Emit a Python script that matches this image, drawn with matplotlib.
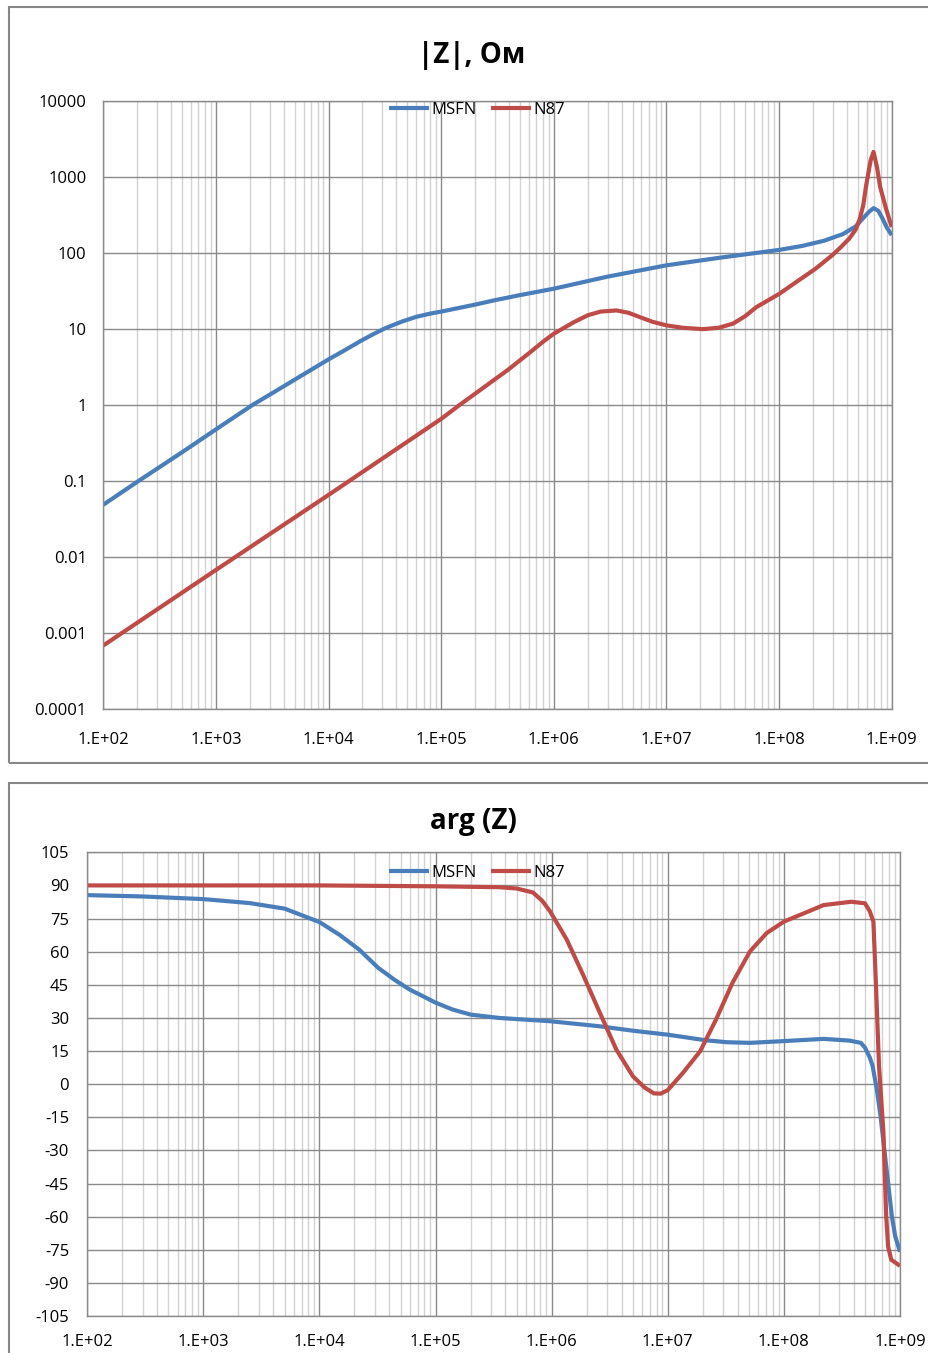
import numpy as np
import matplotlib
matplotlib.use("Agg")
import matplotlib.pyplot as plt
from matplotlib.patches import Rectangle
from matplotlib.ticker import LogLocator, NullFormatter

plt.rcParams['font.family'] = ['Open Sans', 'DejaVu Sans']
plt.rcParams['axes.unicode_minus'] = False

# |Z|, Ohm
f_msfn_mag = [1e2, 2e2, 5e2, 1e3, 2.1e3, 5e3, 1e4, 1.4e4, 1.9e4, 2.5e4, 3.2e4, 4.5e4, 6e4,
              8e4, 1e5, 2e5, 3e5, 5e5, 1e6, 3e6, 1e7, 3e7, 1e8, 1.6e8, 2.5e8, 3.7e8,
              4.8e8, 5.6e8, 6.3e8, 6.9e8, 7.6e8, 8.3e8, 9e8, 1e9]
msfn_mag = [0.049, 0.098, 0.24, 0.48, 1.0, 2.16, 4.0, 5.3, 6.9, 8.6, 10.3, 12.6, 14.5,
            16.0, 17, 21, 24, 28, 34, 49, 69, 87, 110, 124, 145, 178,
            225, 290, 350, 390, 360, 284, 220, 172]

f_n87_mag = [1e2, 1e3, 1e4, 1e5, 1.45e5, 3.9e5, 6e5, 8e5, 1e6, 1.5e6, 2e6, 2.6e6, 3.6e6,
             4.6e6, 5.8e6, 7.5e6, 1e7, 1.4e7, 2.1e7, 2.9e7, 3.9e7, 5e7, 6.3e7, 1e8,
             1.5e8, 2.1e8, 3e8, 3.5e8, 4.2e8, 4.8e8, 5.2e8, 5.6e8, 5.9e8, 6.5e8, 6.9e8,
             7.4e8, 7.9e8, 8.9e8, 1e9]
n87_mag = [6.9e-4, 6.8e-3, 0.066, 0.66, 1.0, 2.9, 4.8, 6.8, 8.7, 12.3, 15.2, 17, 17.6,
           16.4, 14.4, 12.5, 11.2, 10.4, 10.0, 10.4, 11.8, 14.8, 19.5, 29,
           44, 62, 95, 118, 155, 205, 280, 430, 740, 1660, 2140,
           1350, 740, 385, 220]

# arg(Z), degrees
f_msfn_ph = [1e2, 3e2, 1e3, 2.5e3, 5e3, 1e4, 1.5e4, 2.2e4, 3.2e4, 4.5e4, 6e4, 8e4, 1e5,
             1.4e5, 2e5, 3.5e5, 9.7e5, 2.6e6, 5e6, 1e7, 2.1e7, 3.2e7, 5.1e7, 1e8, 2.2e8,
             3.7e8, 4.6e8, 5e8, 5.5e8, 5.8e8, 6.3e8, 6.8e8, 7.6e8, 8.5e8, 9.1e8, 1e9]
msfn_ph = [85.6, 85.0, 83.8, 82.0, 79.5, 73.4, 67.5, 60.9, 52.7, 47.0, 42.8, 39.5, 36.9,
           33.8, 31.5, 30.0, 28.5, 26.2, 24.2, 22.4, 19.9, 19.0, 18.7, 19.5, 20.5,
           19.7, 18.7, 16.5, 12.0, 8.3, -2.0, -14.5, -37, -59.6, -69, -75.9]

f_n87_ph = [1e2, 1e3, 1e4, 1e5, 3.5e5, 5e5, 6.9e5, 8.3e5, 9.7e5, 1.35e6, 1.86e6, 2.6e6,
            3.6e6, 5e6, 6.3e6, 7.6e6, 8.7e6, 1e7, 1.35e7, 1.9e7, 2.6e7, 3.6e7, 5.1e7,
            7.1e7, 1e8, 1.9e8, 2.2e8, 3.8e8, 5e8, 5.5e8, 5.9e8, 6.2e8, 6.6e8, 7.2e8,
            7.6e8, 7.9e8, 8.4e8, 1e9]
n87_ph = [90, 90, 90, 89.6, 89.2, 88.6, 86.8, 83.0, 78.2, 65.4, 49.6, 32.3,
          15.7, 3.6, -1.5, -4.2, -4.3, -2.7, 5.1, 14.9, 29.2, 45.8, 60.1,
          68.4, 73.6, 79.7, 81.1, 82.6, 81.9, 78.2, 73.6, 45.7, 8.0, -21.9,
          -59.6, -73.5, -79.5, -82.3]

x_ticks = [1e2, 1e3, 1e4, 1e5, 1e6, 1e7, 1e8, 1e9]
x_labels = ['1.E+02', '1.E+03', '1.E+04', '1.E+05', '1.E+06', '1.E+07', '1.E+08', '1.E+09']
mag_ticks = [1e-4, 1e-3, 1e-2, 1e-1, 1, 10, 100, 1000, 10000]
mag_labels = ['0.0001', '0.001', '0.01', '0.1', '1', '10', '100', '1000', '10000']
ph_ticks = list(range(-105, 106, 15))

BLUE = '#4a7ebb'
RED = '#be4b48'
MAJ = '#8a8a8a'
MIN = '#d2d2d2'

W, H = 929, 1353
fig = plt.figure(figsize=(W / 100, H / 100), dpi=100)

# chart frames
fig.patches.append(Rectangle((9 / W, 1 - 763 / H), 1.2, (763 - 7) / H, transform=fig.transFigure,
                             fill=False, ec='#878787', lw=1.5))
fig.patches.append(Rectangle((9 / W, -0.1), 1.2, 1 - 783 / H + 0.1, transform=fig.transFigure,
                             fill=False, ec='#878787', lw=1.5))


def style(ax, ypad, xpad):
    ax.set_xscale('log')
    ax.set_xlim(1e2, 1e9)
    ax.set_xticks(x_ticks)
    ax.set_xticklabels(x_labels)
    ax.xaxis.set_minor_locator(LogLocator(base=10, subs=np.arange(2, 10)))
    ax.xaxis.set_minor_formatter(NullFormatter())
    ax.grid(True, which='major', color=MAJ, lw=1.0)
    ax.grid(True, which='minor', axis='x', color=MIN, lw=1.0)
    ax.tick_params(which='both', length=0, labelsize=12, colors='black')
    ax.tick_params(axis='y', pad=ypad)
    ax.tick_params(axis='x', pad=xpad)
    for s in ax.spines.values():
        s.set_color(MAJ)
        s.set_linewidth(1.0)
    ax.set_axisbelow(True)


line_kw = dict(lw=3.0, solid_joinstyle='round', solid_capstyle='butt')

# top: |Z|
ax1 = fig.add_axes([103.3 / W, 1 - 709.3 / H, (891.7 - 103.3) / W, (709.3 - 101) / H])
ax1.plot(f_msfn_mag, msfn_mag, color=BLUE, label='MSFN', **line_kw)
ax1.plot(f_n87_mag, n87_mag, color=RED, label='N87', **line_kw)
ax1.set_yscale('log')
ax1.set_ylim(1e-4, 1e4)
ax1.set_yticks(mag_ticks)
ax1.set_yticklabels(mag_labels)
ax1.yaxis.set_minor_locator(plt.NullLocator())
style(ax1, 12, 16)
ax1.legend(loc='center', bbox_to_anchor=(0.474, 0.985), ncol=2, frameon=False,
           fontsize=12, handlelength=2.4, handletextpad=0.1, columnspacing=0.9,
           borderpad=0, borderaxespad=0)
fig.text(472 / W, 1 - 55 / H, '|Z|, Ом', ha='center', va='center', fontsize=20, fontweight='bold')

# bottom: arg(Z)
ax2 = fig.add_axes([87.3 / W, 1 - 1316 / H, (900 - 87.3) / W, (1316 - 852.3) / H])
ax2.plot(f_msfn_ph, msfn_ph, color=BLUE, label='MSFN', **line_kw)
ax2.plot(f_n87_ph, n87_ph, color=RED, label='N87', **line_kw)
ax2.set_ylim(-105, 105)
ax2.set_yticks(ph_ticks)
style(ax2, 13, 13)
ax2.legend(loc='center', bbox_to_anchor=(0.4795, 0.955), ncol=2, frameon=False,
           fontsize=12, handlelength=2.4, handletextpad=0.1, columnspacing=0.9,
           borderpad=0, borderaxespad=0)
fig.text(473 / W, 1 - 822 / H, 'arg (Z)', ha='center', va='center', fontsize=20, fontweight='bold')

fig.savefig('out.png', dpi=100)
